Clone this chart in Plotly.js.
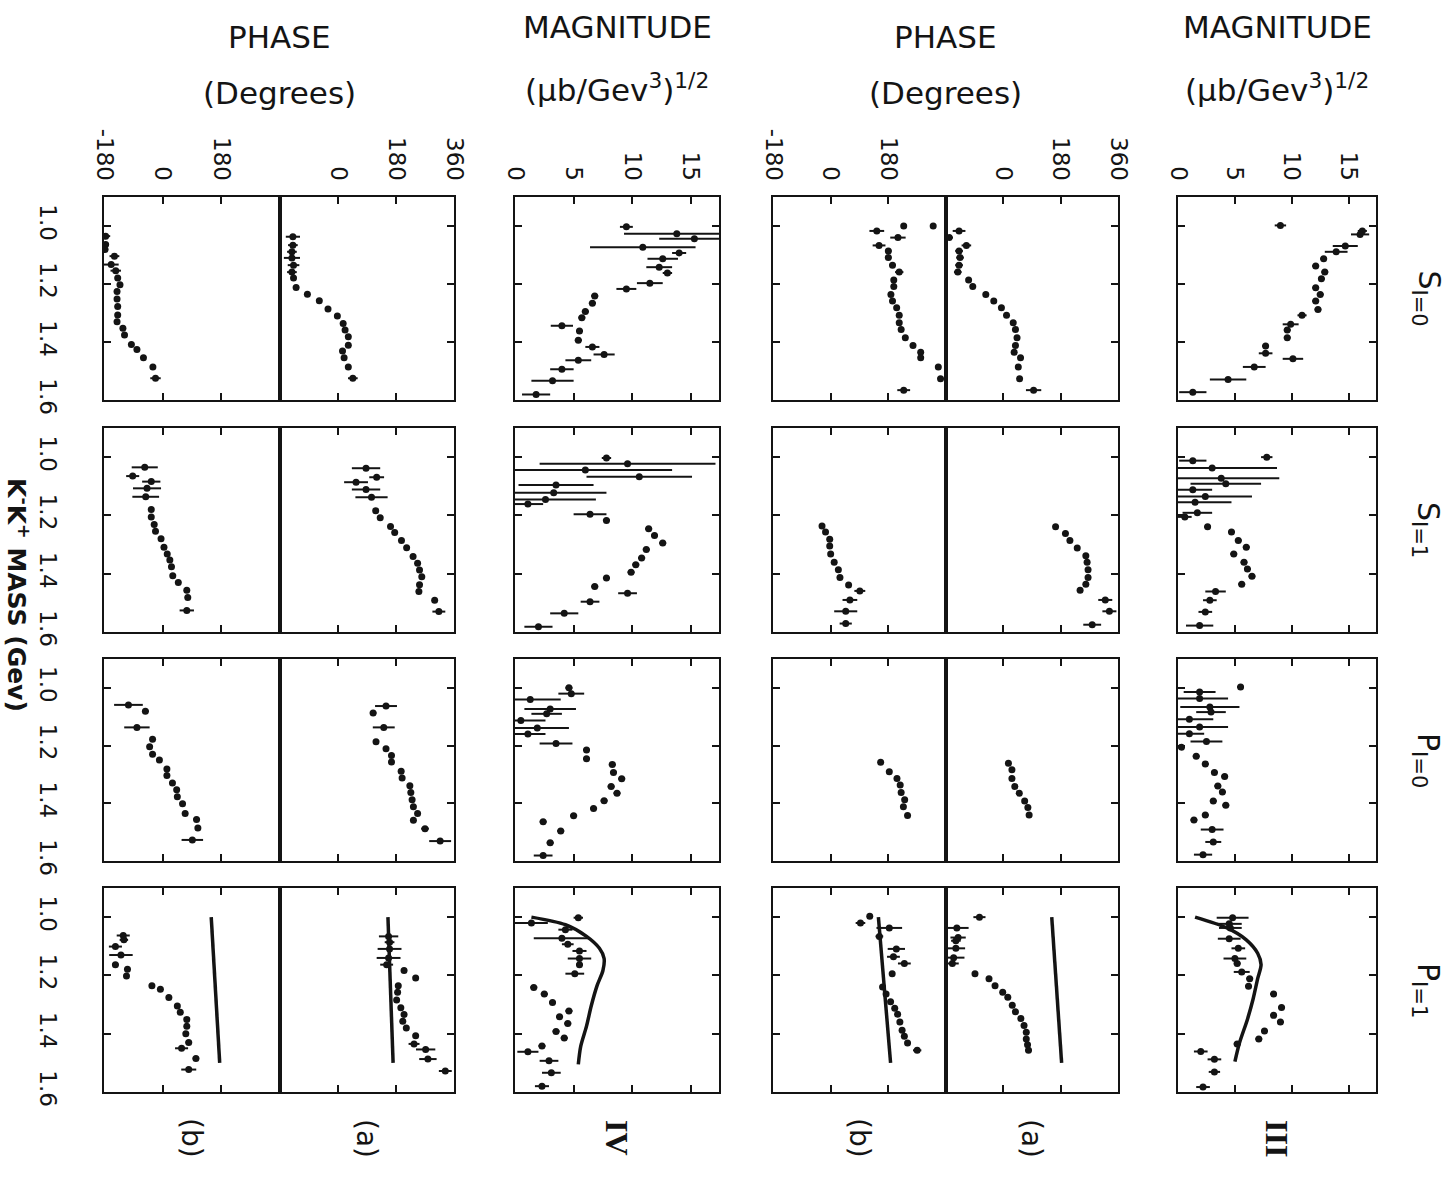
<!DOCTYPE html>
<html><head><meta charset="utf-8">
<script src="https://cdn.plot.ly/plotly-3.0.1.min.js"></script>
<style>html,body{margin:0;padding:0;background:#fff}</style>
</head><body><div id="chart" style="width:1454px;height:1181px"></div>
<script>
// ---------- DATA (mass in GeV, magnitude in (ub/GeV^3)^1/2, phase in degrees) ----------
// Wave S, I=0
const S0_IVb_m = [1.035,1.064,1.081,1.104,1.133,1.154,1.179,1.203,1.226,1.252,1.278,1.307,1.330,1.353,1.376,1.409,1.426,1.454,1.486,1.525];
const S0_IVb_v = [-175,-175,-177,-148,-158,-144,-138,-131,-140,-140,-138,-138,-140,-122,-117,-96,-79,-59,-30,-22];
const S0_IVb_e = [14,10,10,15,23,16,0,0,0,0,0,0,0,0,0,0,0,0,0,16];
const S0_IVa_m = [1.037,1.066,1.089,1.110,1.135,1.159,1.179,1.212,1.235,1.258,1.286,1.310,1.336,1.359,1.382,1.411,1.431,1.454,1.486,1.525];
const S0_IVa_v = [-140,-140,-143,-143,-138,-143,-138,-130,-95,-58,-31,-2,16,22,32,32,14,19,32,46];
const S0_IVa_e = [22,15,15,25,18,15,0,0,0,0,0,0,0,0,0,0,0,0,0,15];
const S0_IVmag_m = [1.003,1.027,1.044,1.073,1.093,1.113,1.142,1.162,1.197,1.217,1.241,1.266,1.295,1.316,1.344,1.362,1.394,1.417,1.443,1.463,1.494,1.534,1.581];
const S0_IVmag_v = [9.5,13.8,15.3,10.9,14.0,12.6,12.3,13.0,11.5,9.5,6.8,6.6,6.0,5.7,4.0,5.5,5.4,6.6,7.6,5.4,4.0,3.2,1.8];
const S0_IVmag_e = [0.55,4.5,3.0,4.5,0.6,1.3,1.1,0.4,1.1,0.85,0.3,0.3,0.3,0.3,0.95,0.3,0.3,0.6,0.9,1.1,1.0,1.8,1.2];
const S0_IIIb_m = [1.0,1.0,1.017,1.040,1.067,1.086,1.109,1.135,1.159,1.186,1.209,1.236,1.259,1.282,1.308,1.334,1.357,1.385,1.412,1.435,1.454,1.486,1.527,1.566];
const S0_IIIb_v = [228,320,144,210,151,180,180,193,214,197,197,188,193,206,214,214,220,233,257,281,281,336,343,228];
const S0_IIIb_e = [0,0,23,24,20,10,10,10,13,0,0,0,0,0,0,0,0,0,0,0,0,0,8,20];
const S0_IIIa_m = [1.017,1.040,1.067,1.086,1.109,1.135,1.159,1.186,1.209,1.236,1.259,1.282,1.308,1.334,1.357,1.385,1.412,1.435,1.454,1.486,1.527,1.566];
const S0_IIIa_v = [-139,-170,-116,-139,-136,-139,-143,-109,-96,-55,-30,-6,10,31,38,43,38,34,54,47,51,95];
const S0_IIIa_e = [20,12,15,12,12,12,12,0,0,0,0,0,0,0,0,0,0,0,0,0,8,24];
const S0_IIImag_m = [0.998,1.017,1.029,1.069,1.089,1.113,1.138,1.159,1.182,1.213,1.236,1.259,1.288,1.308,1.339,1.359,1.385,1.414,1.439,1.458,1.486,1.529,1.573];
const S0_IIImag_v = [9.0,16.2,16.0,14.7,13.9,12.8,12.1,12.9,12.6,12.1,12.5,12.1,12.3,10.9,9.9,9.6,9.6,7.7,7.7,10.1,6.7,4.4,1.3];
const S0_IIImag_e = [0.5,0.4,0.8,1.1,1.0,0.3,0.3,0.3,0.3,0.3,0.3,0.3,0.3,0.4,0.7,0.3,0.3,0.3,0.6,0.9,1.0,1.6,1.2];

// Wave S, I=1
const S1_IVb_m = [1.035,1.065,1.084,1.107,1.136,1.180,1.205,1.231,1.254,1.280,1.309,1.332,1.353,1.376,1.407,1.430,1.457,1.482,1.526];
const S1_IVb_v = [-55,-92,-35,-48,-52,-35,-35,-26,-22,-5,4,14,22,27,31,48,74,77,74];
const S1_IVb_e = [40,20,28,43,41,0,0,0,0,0,0,0,0,0,0,0,0,0,22];
const S1_IVa_m = [1.038,1.069,1.086,1.111,1.138,1.184,1.208,1.238,1.259,1.286,1.311,1.341,1.364,1.387,1.410,1.438,1.461,1.491,1.530];
const S1_IVa_v = [87,120,56,87,104,117,131,163,176,197,213,233,247,253,260,253,251,300,313];
const S1_IVa_e = [44,23,37,44,50,0,0,0,0,0,0,0,0,0,0,0,0,0,20];
const S1_IVmag_m = [1.003,1.023,1.044,1.067,1.096,1.122,1.145,1.161,1.196,1.217,1.246,1.269,1.295,1.317,1.346,1.369,1.395,1.415,1.444,1.467,1.496,1.536,1.582];
const S1_IVmag_v = [7.8,9.6,6.0,10.6,3.5,3.3,2.6,1.1,6.4,7.8,11.4,11.9,12.6,11.2,10.8,10.3,9.9,7.8,6.8,9.6,6.4,4.2,2.0];
const S1_IVmag_e = [0.4,7.5,7.4,4.5,3.2,4.5,4.3,1.3,1.4,0.3,0.3,0.3,0.3,0.3,0.3,0.3,0.3,0.3,0.3,0.8,0.8,1.2,1.2];
const S1_IIIb_m = [1.236,1.257,1.282,1.305,1.332,1.361,1.386,1.413,1.439,1.459,1.490,1.529,1.571];
const S1_IIIb_v = [-27,-16,-3,-3,0,11,24,29,56,91,60,47,47];
const S1_IIIb_e = [0,0,0,0,0,0,0,0,0,17,23,36,19];
const S1_IIIa_m = [1.239,1.262,1.286,1.312,1.338,1.361,1.386,1.413,1.436,1.457,1.490,1.529,1.575];
const S1_IIIa_v = [164,195,209,232,259,263,266,266,259,241,320,333,279];
const S1_IIIa_e = [0,0,0,0,0,0,0,0,0,0,22,22,28];
const S1_IIImag_m = [1.0,1.012,1.037,1.072,1.091,1.112,1.135,1.155,1.191,1.205,1.239,1.257,1.286,1.309,1.332,1.361,1.384,1.409,1.436,1.461,1.491,1.531,1.578];
const S1_IIImag_v = [7.8,1.3,3.0,3.8,4.2,1.3,2.4,1.5,1.7,0.6,2.6,4.7,5.3,6.0,4.9,5.8,6.1,6.5,5.6,3.3,2.8,2.4,1.9];
const S1_IIImag_e = [0.5,1.2,5.7,5.1,3.1,1.7,4.1,3.2,1.3,0.6,0.3,0.3,0.3,0.3,0.3,0.3,0.3,0.3,0.3,0.9,0.6,0.6,1.2];

// Wave P, I=0
const P0_IVb_m = [1.059,1.081,1.137,1.178,1.204,1.230,1.250,1.281,1.304,1.330,1.353,1.377,1.402,1.435,1.456,1.486,1.527];
const P0_IVb_v = [-105,-53,-79,-31,-40,-31,-10,13,13,30,43,45,61,69,104,108,91];
const P0_IVb_e = [44,10,39,0,0,0,0,0,0,0,0,0,0,0,10,8,33];
const P0_IVa_m = [1.063,1.087,1.137,1.187,1.211,1.234,1.257,1.289,1.312,1.339,1.363,1.388,1.412,1.435,1.459,1.488,1.531];
const P0_IVa_v = [149,109,142,118,149,166,166,196,199,223,226,230,234,247,234,270,317];
const P0_IVa_e = [34,10,34,0,0,0,0,0,0,0,0,0,0,0,0,12,34];
const P0_IVmag_m = [1.0,1.020,1.040,1.073,1.090,1.113,1.139,1.160,1.193,1.215,1.246,1.266,1.293,1.315,1.342,1.365,1.391,1.418,1.443,1.464,1.496,1.537,1.581];
const P0_IVmag_v = [4.6,4.8,1.3,3.0,2.7,0.5,1.9,1.1,3.5,6.1,6.1,8.3,8.4,9.1,8.2,8.7,7.6,6.7,5.0,2.4,3.9,3.0,2.4];
const P0_IVmag_e = [0.3,1.1,2.6,2.2,1.3,2.1,2.7,1.5,1.4,0.3,0.3,0.3,0.3,0.3,0.3,0.3,0.3,0.3,0.3,0.3,0.3,0.3,0.8];
const P0_IIIb_m = [1.258,1.291,1.314,1.337,1.363,1.388,1.412,1.442];
const P0_IIIb_v = [156,183,207,217,220,231,227,240];
const P0_IIIb_e = [0,0,0,0,0,0,0,0];
const P0_IIIa_m = [1.261,1.284,1.314,1.342,1.365,1.392,1.415,1.441];
const P0_IIIa_v = [16,27,27,36,50,67,77,81];
const P0_IIIa_e = [0,0,0,0,0,0,0,0];
const P0_IIImag_m = [0.997,1.014,1.037,1.066,1.084,1.109,1.136,1.159,1.186,1.206,1.237,1.264,1.293,1.307,1.340,1.361,1.392,1.407,1.441,1.458,1.491,1.534,1.578];
const P0_IIImag_v = [5.5,1.9,1.9,2.8,2.9,1.0,1.9,1.0,2.5,0.3,1.6,2.4,3.2,4.1,3.5,3.9,3.1,4.2,2.4,1.4,3.0,3.1,2.2];
const P0_IIImag_e = [0.3,1.4,2.5,2.6,1.3,2.1,2.5,1.3,1.4,0.3,0.3,0.3,0.3,0.3,0.3,0.3,0.3,0.3,0.3,0.3,1.0,0.7,0.8];

// Wave P, I=1
const P1_IVb_m = [1.063,1.078,1.101,1.130,1.163,1.179,1.202,1.235,1.247,1.276,1.305,1.326,1.351,1.374,1.400,1.430,1.450,1.485,1.523];
const P1_IVb_v = [-121,-119,-145,-128,-145,-108,-111,-33,-7,19,45,54,74,74,71,80,58,102,80];
const P1_IVb_e = [20,13,20,36,10,8,0,0,0,0,0,0,0,0,0,10,20,10,23];
const P1_IVa_m = [1.066,1.086,1.109,1.140,1.163,1.183,1.209,1.235,1.258,1.284,1.311,1.334,1.357,1.380,1.407,1.435,1.454,1.487,1.528];
const P1_IVa_v = [157,160,160,157,151,205,241,187,185,182,195,205,201,212,241,236,272,279,333];
const P1_IVa_e = [30,15,37,37,20,0,0,0,0,0,0,0,0,0,0,17,30,27,20];
const P1_IVmag_m = [1.002,1.020,1.043,1.072,1.093,1.116,1.142,1.163,1.194,1.241,1.264,1.293,1.322,1.342,1.365,1.392,1.415,1.442,1.462,1.493,1.534,1.580];
const P1_IVmag_v = [5.4,1.4,4.3,4.0,4.5,5.5,5.5,5.5,5.1,1.6,2.5,3.2,4.6,3.8,4.5,3.5,4.2,2.3,1.1,2.9,3.1,2.3];
const P1_IVmag_e = [0.4,1.4,0.6,2.4,0.5,0.6,1.0,0.3,0.8,0.3,0.3,0.3,0.3,0.3,0.3,0.3,0.3,0.3,0.9,0.8,0.8,0.6];
const P1_IIIb_m = [0.997,1.020,1.037,1.066,1.109,1.136,1.159,1.194,1.240,1.264,1.290,1.313,1.333,1.360,1.388,1.409,1.432,1.457];
const P1_IIIb_v = [122,93,183,152,205,196,230,192,162,173,187,200,209,216,223,230,240,270];
const P1_IIIb_e = [0,15,40,12,27,20,20,0,0,0,0,0,0,0,0,0,0,13];
const P1_IIIa_m = [1.0,1.037,1.070,1.081,1.107,1.139,1.159,1.194,1.211,1.235,1.258,1.275,1.302,1.325,1.348,1.372,1.395,1.418,1.438,1.457];
const P1_IIIa_v = [-75,-146,-142,-149,-149,-156,-160,-89,-45,-26,-2,14,28,38,55,65,72,72,76,79];
const P1_IIIa_e = [19,37,24,15,29,34,20,0,0,0,0,0,0,0,0,0,0,0,0,10];
const P1_IIImag_m = [1.002,1.023,1.037,1.074,1.107,1.142,1.159,1.188,1.211,1.237,1.264,1.310,1.337,1.360,1.391,1.418,1.435,1.461,1.488,1.531,1.583];
const P1_IIImag_v = [4.8,4.5,4.6,4.5,5.3,5.0,5.2,5.6,6.3,6.2,8.4,9.1,8.4,9.0,7.6,7.1,5.2,2.0,3.2,3.2,2.2];
const P1_IIImag_e = [1.4,1.1,1.0,1.0,0.6,1.0,0.3,0.7,0.3,0.3,0.3,0.3,0.3,0.3,0.3,0.3,0.3,0.6,0.6,0.5,0.6];

// Model curves (P, I=1)
const P1_IVmag_fit_m = [1.0,1.026,1.066,1.107,1.142,1.183,1.235,1.305,1.374,1.444,1.505];
const P1_IVmag_fit_v = [1.4,4.3,6.1,7.2,7.6,7.5,7.0,6.5,6.1,5.6,5.4];
const P1_IVa_fit_m = [1.0,1.5];
const P1_IVa_fit_v = [155,171];
const P1_IVb_fit_m = [1.0,1.5];
const P1_IVb_fit_v = [149,175];
const P1_IIImag_fit_m = [1.0,1.037,1.078,1.124,1.163,1.211,1.281,1.351,1.432,1.496];
const P1_IIImag_fit_v = [1.5,4.3,6.0,7.0,7.3,7.0,6.6,6.1,5.4,5.0];
const P1_IIIa_fit_m = [1.0,1.5];
const P1_IIIa_fit_v = [152,183];
const P1_IIIb_fit_m = [1.0,1.5];
const P1_IIIb_fit_v = [149,187];

// Tick labels
const massTicks = [1.0,1.2,1.4,1.6];
const massTickText = ['1.0','1.2','1.4','1.6'];
const phaseTicksB = [-180,0,180];
const phaseTextB = ['-180','0','180'];
const phaseTicksA = [0,180,360];
const phaseTextA = ['0','180','360'];
const magTicks = [0,5,10,15];
const magTickText = ['0','5','10','15'];
const waveLabels = ['S<sub>I=0</sub>','S<sub>I=1</sub>','P<sub>I=0</sub>','P<sub>I=1</sub>'];

// ---------- assembly ----------
const DATA = {
  S0:{IVb:[S0_IVb_m,S0_IVb_v,S0_IVb_e],IVa:[S0_IVa_m,S0_IVa_v,S0_IVa_e],IVmag:[S0_IVmag_m,S0_IVmag_v,S0_IVmag_e],
      IIIb:[S0_IIIb_m,S0_IIIb_v,S0_IIIb_e],IIIa:[S0_IIIa_m,S0_IIIa_v,S0_IIIa_e],IIImag:[S0_IIImag_m,S0_IIImag_v,S0_IIImag_e]},
  S1:{IVb:[S1_IVb_m,S1_IVb_v,S1_IVb_e],IVa:[S1_IVa_m,S1_IVa_v,S1_IVa_e],IVmag:[S1_IVmag_m,S1_IVmag_v,S1_IVmag_e],
      IIIb:[S1_IIIb_m,S1_IIIb_v,S1_IIIb_e],IIIa:[S1_IIIa_m,S1_IIIa_v,S1_IIIa_e],IIImag:[S1_IIImag_m,S1_IIImag_v,S1_IIImag_e]},
  P0:{IVb:[P0_IVb_m,P0_IVb_v,P0_IVb_e],IVa:[P0_IVa_m,P0_IVa_v,P0_IVa_e],IVmag:[P0_IVmag_m,P0_IVmag_v,P0_IVmag_e],
      IIIb:[P0_IIIb_m,P0_IIIb_v,P0_IIIb_e],IIIa:[P0_IIIa_m,P0_IIIa_v,P0_IIIa_e],IIImag:[P0_IIImag_m,P0_IIImag_v,P0_IIImag_e]},
  P1:{IVb:[P1_IVb_m,P1_IVb_v,P1_IVb_e],IVa:[P1_IVa_m,P1_IVa_v,P1_IVa_e],IVmag:[P1_IVmag_m,P1_IVmag_v,P1_IVmag_e],
      IIIb:[P1_IIIb_m,P1_IIIb_v,P1_IIIb_e],IIIa:[P1_IIIa_m,P1_IIIa_v,P1_IIIa_e],IIImag:[P1_IIImag_m,P1_IIImag_v,P1_IIImag_e]}
};
const FITS = {
  IVmag:[P1_IVmag_fit_m,P1_IVmag_fit_v], IVa:[P1_IVa_fit_m,P1_IVa_fit_v], IVb:[P1_IVb_fit_m,P1_IVb_fit_v],
  IIImag:[P1_IIImag_fit_m,P1_IIImag_fit_v], IIIa:[P1_IIIa_fit_m,P1_IIIa_fit_v], IIIb:[P1_IIIb_fit_m,P1_IIIb_fit_v]
};

const W = 1454, H = 1181;
const INK = '#141414';
const cols = [
  {key:'IVb', kind:'b', x0:104, x1:280},
  {key:'IVa', kind:'a', x0:280, x1:454},
  {key:'IVmag', kind:'mag', x0:515, x1:719},
  {key:'IIIb', kind:'b', x0:773, x1:946},
  {key:'IIIa', kind:'a', x0:946, x1:1118},
  {key:'IIImag', kind:'mag', x0:1178, x1:1376}
];
const rows = [[197,400],[428,632],[659,861],[888,1092]];
const waves = ['S0','S1','P0','P1'];
const tickFont = {family:'DejaVu Sans, sans-serif', size:23, color:INK};

const traces = [];
const layout = {
  width:W, height:H, margin:{l:0,r:0,t:0,b:0},
  paper_bgcolor:'#fff', plot_bgcolor:'#fff', showlegend:false,
  annotations:[]
};

rows.forEach((rp, r) => {
  cols.forEach((c, ci) => {
    const n = r*6 + ci + 1;
    const xs = n === 1 ? '' : String(n);
    const xa = 'xaxis' + xs, ya = 'yaxis' + xs;
    const isMag = c.kind === 'mag';
    layout[xa] = {
      domain:[c.x0/W, c.x1/W], anchor:'y'+xs,
      range: isMag ? [0,17.4] : [-180,360],
      tickmode:'array',
      tickvals: isMag ? magTicks : (c.kind==='b' ? phaseTicksB : phaseTicksA),
      ticktext: isMag ? magTickText : (c.kind==='b' ? phaseTextB : phaseTextA),
      showticklabels: r === 0, side:'top', tickangle:90, tickfont:tickFont,
      ticklabelstandoff:6,
      ticks:'inside', ticklen:7, tickwidth:2, tickcolor:INK,
      showline:true, linewidth:2, linecolor:INK, mirror:'ticks',
      showgrid:false, zeroline:false, fixedrange:true
    };
    layout[ya] = {
      domain:[1-rp[1]/H, 1-rp[0]/H], anchor:'x'+xs,
      range:[1.6,0.9], tickmode:'array', tickvals:massTicks, ticktext:massTickText,
      showticklabels: ci === 0, tickangle:90, tickfont:tickFont, ticklabelstandoff:34,
      side: c.kind === 'a' ? 'right' : 'left',
      ticks:'inside', ticklen:7, tickwidth:2, tickcolor:INK,
      showline:true, linewidth:2, linecolor:INK,
      mirror: isMag ? 'ticks' : true,
      showgrid:false, zeroline:false, fixedrange:true
    };
    const d = DATA[waves[r]][c.key];
    traces.push({
      type:'scatter', mode:'markers', x:d[1], y:d[0],
      xaxis:'x'+xs, yaxis:'y'+xs,
      marker:{size:7, color:INK, symbol:'circle'},
      error_x:{type:'data', array:d[2], visible:true, thickness:2, width:0, color:INK},
      cliponaxis:true, hoverinfo:'skip'
    });
    if (waves[r] === 'P1') {
      const f = FITS[c.key];
      traces.push({
        type:'scatter', mode:'lines', x:f[1], y:f[0],
        xaxis:'x'+xs, yaxis:'y'+xs,
        line:{color:INK, width:3.5, shape:'spline', smoothing:0.8},
        hoverinfo:'skip'
      });
    }
  });
  // wave label on the right
  layout.annotations.push({
    xref:'paper', yref:'paper', x:1427/W, y:1-((rp[0]+rp[1])/2)/H,
    text:waveLabels[r], showarrow:false, textangle:90,
    font:{family:'DejaVu Sans, sans-serif', size:30, color:INK},
    xanchor:'center', yanchor:'middle'
  });
});

const hdrFont = {family:'DejaVu Sans, sans-serif', size:31, color:INK};
function ann(x, y, text, font, angle) {
  layout.annotations.push({xref:'paper', yref:'paper', x:x/W, y:1-y/H, text:text,
    showarrow:false, textangle:angle||0, font:font, xanchor:'center', yanchor:'middle'});
}
// column headers
ann(279, 37, 'PHASE', hdrFont);
ann(279, 93, '(Degrees)', hdrFont);
ann(617, 27, 'MAGNITUDE', hdrFont);
ann(617, 88, '(\u03bcb/Gev<sup>3</sup>)<sup>1/2</sup>', hdrFont);
ann(945, 37, 'PHASE', hdrFont);
ann(945, 93, '(Degrees)', hdrFont);
ann(1277, 27, 'MAGNITUDE', hdrFont);
ann(1277, 88, '(\u03bcb/Gev<sup>3</sup>)<sup>1/2</sup>', hdrFont);
// bottom labels
const botFont = {family:'DejaVu Sans, sans-serif', size:28, color:INK};
const romFont = {family:'Liberation Serif, serif', size:32, color:INK, weight:'bold'};
ann(192, 1138, '(b)', botFont, 90);
ann(367, 1138, '(a)', botFont, 90);
ann(617, 1138, 'IV', romFont, 90);
ann(860, 1138, '(b)', botFont, 90);
ann(1032, 1138, '(a)', botFont, 90);
ann(1277, 1138, 'III', romFont, 90);
// mass axis title
ann(17, 595, 'K<sup>-</sup>K<sup>+</sup> MASS (Gev)', {family:'DejaVu Sans, sans-serif', size:25, color:INK, weight:'bold'}, 90);

Plotly.newPlot('chart', traces, layout, {staticPlot:true, displayModeBar:false});
</script></body></html>
